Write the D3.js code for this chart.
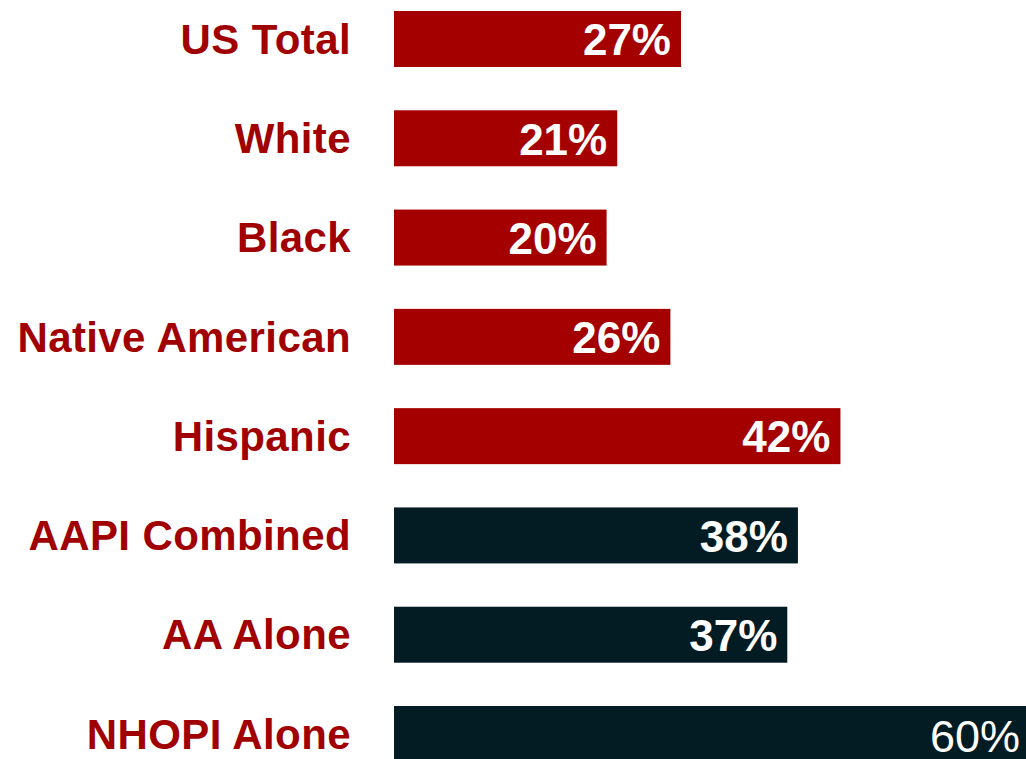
<!DOCTYPE html>
<html>
<head>
<meta charset="utf-8">
<script src="https://cdn.jsdelivr.net/npm/d3@7"></script>
<style>
  html, body { margin: 0; padding: 0; background: #fff; overflow: hidden; }
  svg { display: block; }
</style>
</head>
<body>
<script>
const categories = ["US Total", "White", "Black", "Native American", "Hispanic", "AAPI Combined", "AA Alone", "NHOPI Alone"];
const values = [27, 21, 20, 26, 42, 38, 37, 60];
const groups = ["red", "red", "red", "red", "red", "dark", "dark", "dark"];

const width = 1026;
const height = 759;

const colors = { red: "#a50000", dark: "#031c24" };

const svg = d3.select("body").append("svg")
    .attr("width", width)
    .attr("height", height);

// x scale: 0% at 394px, ~10.63px per percent
const xScale = d3.scaleLinear()
    .domain([0, 27])
    .range([394, 681]);

const yScale = d3.scaleBand()
    .domain(categories)
    .range([11, 762])
    .paddingInner(0.436)
    .paddingOuter(0);

const data = categories.map((c, i) => ({ cat: c, value: values[i], group: groups[i] }));

// bars
svg.append("g").attr("class", "bars")
    .selectAll("rect")
    .data(data)
    .enter()
    .append("rect")
    .attr("x", xScale(0))
    .attr("y", d => yScale(d.cat))
    .attr("width", d => xScale(d.value) - xScale(0))
    .attr("height", yScale.bandwidth())
    .attr("fill", d => colors[d.group]);

// category labels
svg.append("g").attr("class", "cats")
    .selectAll("text")
    .data(data)
    .enter()
    .append("text")
    .attr("x", 351)
    .attr("y", d => yScale(d.cat) + yScale.bandwidth() / 2)
    .attr("dy", "0.35em")
    .attr("text-anchor", "end")
    .attr("font-family", "Liberation Sans, Arial, sans-serif")
    .attr("font-weight", "bold")
    .attr("font-size", 42)
    .attr("letter-spacing", 0.4)
    .attr("fill", "#a00000")
    .text(d => d.cat);

// value labels (last one sits against the window edge, regular weight)
svg.append("g").attr("class", "vals")
    .selectAll("text")
    .data(data)
    .enter()
    .append("text")
    .attr("x", d => Math.min(xScale(d.value) - 10, 1020))
    .attr("y", d => yScale(d.cat) + yScale.bandwidth() / 2)
    .attr("dy", d => d.value === 60 ? "0.39em" : "0.37em")
    .attr("text-anchor", "end")
    .attr("font-family", "Liberation Sans, Arial, sans-serif")
    .attr("font-weight", d => d.value === 60 ? "normal" : "bold")
    .attr("font-size", d => d.value === 60 ? 45 : 44)
    .attr("fill", "#fff")
    .text(d => d.value + "%");
</script>
</body>
</html>
